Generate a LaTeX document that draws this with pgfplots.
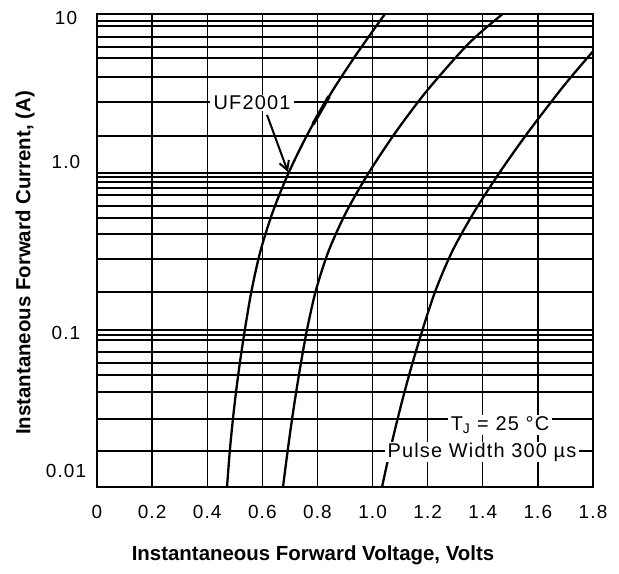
\documentclass[border=0pt]{standalone}
\usepackage{fontspec}
\setmainfont{Liberation Sans}
\newfontfamily\chartfont{Liberation Sans}[LetterSpace=6]
\usepackage{pgfplots}
\pgfplotsset{compat=1.18}
\usetikzlibrary{arrows.meta}

\begin{document}
\begin{tikzpicture}
\useasboundingbox (-97bp,-87bp) rectangle (522bp,487bp);
\begin{axis}[
    at={(0,0)}, anchor=south west,
    scale only axis,
    width=496bp, height=473bp,
    xmin=0, xmax=1.8,
    ymode=log, ymin=0.01, ymax=10,
    axis line style={line width=2bp},
    xtick={0,0.2,0.4,0.6,0.8,1.0,1.2,1.4,1.6,1.8},
    xticklabels={0,0.2,0.4,0.6,0.8,1.0,1.2,1.4,1.6,1.8},
    ytick={9.5,1.144,0.0955,0.01256},
    yticklabels={10,1.0,0.1,0.01},
    minor ytick={9.03,8.39,7.15,6.18,5.26,3.98,2.77,1.68,0.98,0.925,0.860,0.788,0.711,0.606,0.508,0.402,0.279,0.1725,0.099,0.0921,0.0856,0.0718,0.0612,0.0513,0.0400,0.0270,0.0169},
    xmajorgrids, ymajorgrids=false, yminorgrids,
    major tick length=0pt, minor tick length=0pt,
    major grid style={black, line width=1.4bp},
    minor grid style={black, line width=1.4bp},
    tick label style={font=\chartfont\fontsize{19}{21}\selectfont},
    xticklabel style={anchor=center, yshift=-25bp},
    yticklabel style={anchor=center, xshift=-31bp},
]

% UF2001
\addplot[black, line width=2.3bp, smooth] coordinates {
    (0.4718,0.01) (0.4830,0.01778) (0.4976,0.03162) (0.5155,0.05623)
    (0.5368,0.1) (0.5614,0.1778) (0.5937,0.3162) (0.6389,0.5623)
    (0.6973,1) (0.7678,1.778) (0.8500,3.162) (0.9436,5.623) (1.0450,10)
};
\addplot[black, line width=3.6bp, smooth] coordinates {(0.7839,2.0) (0.8130,2.45) (0.842,3.0)};

\addplot[black, line width=2.3bp, smooth] coordinates {
    (0.675,0.01) (0.6934,0.01778) (0.7137,0.03162) (0.7365,0.05623)
    (0.7624,0.1) (0.7949,0.1778) (0.8412,0.3162) (0.9062,0.5623)
    (0.9887,1) (1.0837,1.778) (1.1912,3.162) (1.3150,5.623)
    (1.3866,7.499) (1.4720,10)
};

\addplot[black, line width=2.3bp, smooth] coordinates {
    (1.0343,0.01) (1.0659,0.01778) (1.1006,0.03162) (1.1390,0.05623)
    (1.1818,0.1) (1.2293,0.1778) (1.2906,0.3162) (1.3706,0.5623)
    (1.4631,1) (1.5644,1.778) (1.6738,3.162) (1.7321,4.217) (1.80,5.80)
};

\node[fill=white, inner xsep=4bp, inner ysep=1bp, font=\chartfont\fontsize{20}{24}\selectfont]
    at (axis cs:0.5625,2.73) {UF2001};
\draw[black, line width=2bp, -{Straight Barb[length=9bp, width=10bp]}]
    (axis cs:0.617,2.29) -- (axis cs:0.693,0.995);

\node[fill=white, inner xsep=3bp, inner ysep=1bp, font=\chartfont\fontsize{20}{24}\selectfont]
    at (axis cs:1.4625,0.02473) {T\textsubscript{J} = 25 °C};
\node[fill=white, inner xsep=3bp, inner ysep=1bp, font=\chartfont\fontsize{20}{24}\selectfont]
    at (axis cs:1.397,0.01667) {Pulse Width 300 µs};
\end{axis}

\node[font=\bfseries\fontsize{20.5}{24}\selectfont] at (216bp,-68bp)
    {Instantaneous Forward Voltage, Volts};
\node[rotate=90, font=\bfseries\fontsize{20.5}{24}\selectfont] at (-72bp,224bp)
    {Instantaneous Forward Current, (A)};
\end{tikzpicture}
\end{document}
